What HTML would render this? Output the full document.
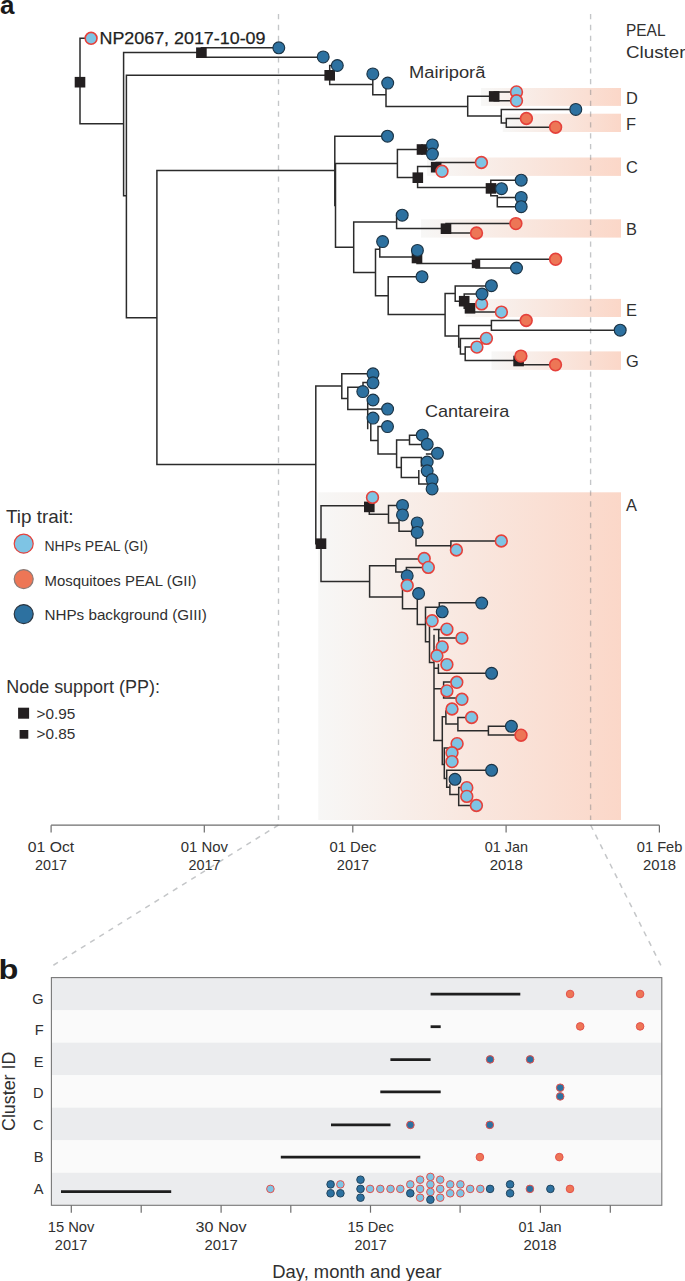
<!DOCTYPE html><html><head><meta charset="utf-8"><style>html,body{margin:0;padding:0;background:#fff;}svg{display:block;font-family:"Liberation Sans",sans-serif;}</style></head><body><svg width="685" height="1281" viewBox="0 0 685 1281">
<defs>
<linearGradient id="g1" x1="0" y1="0" x2="1" y2="0"><stop offset="0" stop-color="#f9d4c6" stop-opacity="0"/><stop offset="1" stop-color="#f9d4c6" stop-opacity="1"/></linearGradient>
<linearGradient id="gA" x1="0" y1="0" x2="1" y2="0"><stop offset="0" stop-color="#f7f7f6"/><stop offset="1" stop-color="#fbd7c8"/></linearGradient>
</defs>
<rect width="685" height="1281" fill="#fff"/>
<rect x="481" y="88.0" width="140.0" height="17.9" fill="url(#gA)"/>
<rect x="502.8" y="113.7" width="118.2" height="18.3" fill="url(#gA)"/>
<rect x="427" y="157.5" width="194.0" height="18.4" fill="url(#gA)"/>
<rect x="421" y="219.3" width="200.0" height="18.3" fill="url(#gA)"/>
<rect x="465.7" y="298.9" width="155.3" height="18.1" fill="url(#gA)"/>
<rect x="491.5" y="351.4" width="129.5" height="18.5" fill="url(#gA)"/>
<rect x="318.3" y="492.3" width="302.7" height="327.7" fill="url(#gA)"/>
<line x1="278.5" y1="14" x2="278.5" y2="820" stroke="#6b7076" stroke-opacity="0.4" stroke-width="1.35" stroke-dasharray="5.3 5.53"/>
<line x1="590.6" y1="14" x2="590.6" y2="820" stroke="#6b7076" stroke-opacity="0.4" stroke-width="1.35" stroke-dasharray="5.3 5.53"/>
<line x1="278.5" y1="825" x2="53" y2="965.5" stroke="#6b7076" stroke-opacity="0.4" stroke-width="1.5" stroke-dasharray="5.3 5.53"/>
<line x1="590.6" y1="825" x2="660.9" y2="965.4" stroke="#6b7076" stroke-opacity="0.4" stroke-width="1.5" stroke-dasharray="5.3 5.53"/>
<path d="M79.25 38.30H86.00M79.25 123.80H123.60M122.85 52.50H201.40M200.65 47.80H279.00M200.65 57.20H323.00M122.85 195.80H126.40M125.65 75.20H329.70M328.95 65.50H337.00M328.95 84.60H372.80M372.05 94.80H386.00M385.25 106.50H467.70M466.95 96.20H494.00M493.45 91.90H516.50M493.45 100.80H516.50M466.95 116.10H501.30M500.55 109.40H575.80M500.55 123.10H506.30M505.55 118.50H526.40M505.55 127.20H555.60M125.65 317.70H156.90M156.15 170.50H334.80M334.05 136.20H387.50M334.75 163.60H397.40M396.65 149.40H422.00M396.65 177.50H417.80M416.85 166.60H436.20M435.45 162.40H481.40M416.85 187.60H491.00M490.05 180.30H521.20M490.05 195.70H497.30M496.55 197.60H521.20M496.55 206.70H521.20M334.75 247.20H353.70M352.95 221.90H396.60M395.85 228.50H446.00M445.25 223.60H515.90M445.25 233.00H476.50M352.95 272.50H375.50M374.75 249.30H379.80M379.05 257.10H417.00M416.25 263.60H476.00M475.25 259.30H555.60M475.25 268.00H516.50M374.75 295.70H388.20M387.45 276.70H422.00M387.45 314.50H445.10M444.35 293.40H455.20M454.45 285.90H491.40M454.45 301.20H464.20M463.45 294.00H482.00M463.45 308.30H470.00M469.25 312.10H501.40M444.35 336.10H458.70M457.95 325.40H491.40M490.65 320.50H526.20M490.65 330.20H620.20M457.95 347.00H460.40M459.65 338.50H486.40M459.65 354.10H465.20M464.45 347.10H476.90M464.45 360.60H518.60M517.85 364.80H555.50M156.15 464.50H315.80M315.05 386.10H341.80M341.05 373.80H373.00M341.05 398.60H347.80M347.05 387.20H363.00M362.25 382.60H373.00M347.05 409.60H367.70M366.95 409.10H387.60M370.05 440.40H378.00M377.25 426.40H387.50M377.25 453.90H396.60M395.85 439.90H409.50M408.75 435.20H422.30M408.75 444.50H427.20M425.85 453.90H437.50M395.85 467.60H401.30M400.55 457.60H421.40M400.55 477.50H418.80M418.05 484.00H432.00M315.05 543.80H321.00M320.25 505.80H369.30M368.55 514.20H388.50M387.75 505.60H402.50M387.75 522.90H399.00M398.25 531.20H412.50M415.25 545.70H450.90M450.15 541.00H501.30M320.25 581.40H369.60M368.85 565.70H395.80M395.05 559.00H424.20M395.05 572.00H406.40M405.65 567.40H428.30M368.85 596.90H402.50M401.75 608.70H417.30M416.55 624.40H425.50M424.75 607.20H439.30M438.55 602.80H481.70M424.75 641.80H429.50M428.75 662.40H434.00M433.25 629.40H446.90M437.95 638.10H461.90M433.25 668.30H438.40M437.65 673.30H491.60M433.25 688.70H443.60M442.85 682.10H456.80M442.85 697.90H461.90M433.05 740.40H442.30M441.55 716.70H445.90M445.15 723.90H457.90M457.15 717.50H471.60M457.15 730.70H488.40M487.65 726.30H511.40M487.65 735.10H521.00M443.55 748.00H457.10M441.55 764.40H444.30M445.95 770.20H491.60M443.55 778.50H446.70M445.95 787.30H449.90M449.15 794.60H458.70M457.95 787.60H466.80M457.95 805.50H476.40M80.00 37.55V124.55M123.60 51.75V196.55M201.40 47.05V57.95M126.40 74.45V318.45M329.70 64.75V85.35M372.80 73.05V95.55M386.00 82.35V107.25M467.70 95.45V116.85M494.20 91.15V101.55M501.30 108.65V123.85M506.30 117.75V127.95M156.90 169.75V465.25M334.80 135.45V206.25M335.50 162.85V247.95M397.40 148.65V178.05M422.00 144.15V154.75M417.60 165.85V188.35M436.20 161.65V172.05M490.80 179.55V196.45M497.30 194.95V207.45M353.70 221.15V273.25M396.60 214.65V229.25M446.00 222.85V233.75M375.50 248.55V296.45M379.80 240.85V257.85M417.00 249.65V264.35M476.00 258.55V268.75M388.20 275.95V315.25M445.10 292.65V336.85M455.20 285.15V301.95M464.20 293.25V309.05M470.00 303.15V312.85M458.70 324.65V347.75M491.40 319.75V330.95M460.40 337.75V354.85M465.20 346.35V361.35M518.60 355.35V365.55M315.80 385.35V544.55M341.80 373.05V399.35M347.80 386.45V410.35M363.00 381.85V392.35M367.70 399.25V429.25M370.80 423.25V441.15M378.00 425.65V454.65M396.60 439.15V468.35M409.50 434.45V445.25M401.30 456.85V478.25M421.40 456.85V466.75M418.80 470.05V484.75M321.00 505.05V582.15M369.30 496.65V514.95M388.50 504.85V523.65M399.00 514.15V531.95M412.50 522.15V533.15M416.00 533.05V546.45M450.90 540.25V550.75M369.60 564.95V597.65M395.80 558.25V572.75M406.40 566.65V580.75M402.50 584.75V609.45M417.30 592.75V625.15M425.50 606.45V642.55M439.30 602.05V612.55M429.50 625.55V663.15M434.00 634.75V741.15M438.70 628.65V647.65M438.40 663.85V674.05M443.60 681.35V698.65M442.30 715.95V765.15M445.90 710.25V724.65M457.90 716.75V731.45M488.40 725.55V735.85M444.30 747.25V779.25M446.70 769.45V788.05M449.90 784.25V795.35M458.70 786.85V806.25" stroke="#2b2b2b" stroke-width="1.5" fill="none"/>
<rect x="74.70" y="76.90" width="10.6" height="10.6" fill="#231f20"/>
<rect x="196.10" y="47.40" width="10.6" height="10.6" fill="#231f20"/>
<rect x="324.40" y="70.00" width="10.6" height="10.6" fill="#231f20"/>
<rect x="488.90" y="91.10" width="10.6" height="10.6" fill="#231f20"/>
<rect x="416.70" y="144.20" width="10.6" height="10.6" fill="#231f20"/>
<rect x="412.50" y="172.40" width="10.6" height="10.6" fill="#231f20"/>
<rect x="430.90" y="161.90" width="10.6" height="10.6" fill="#231f20"/>
<rect x="485.70" y="183.10" width="10.6" height="10.6" fill="#231f20"/>
<rect x="440.70" y="223.40" width="10.6" height="10.6" fill="#231f20"/>
<rect x="411.70" y="252.70" width="10.6" height="10.6" fill="#231f20"/>
<rect x="471.80" y="259.80" width="8.4" height="8.4" fill="#231f20"/>
<rect x="458.90" y="295.90" width="10.6" height="10.6" fill="#231f20"/>
<rect x="464.70" y="303.00" width="10.6" height="10.6" fill="#231f20"/>
<rect x="513.30" y="355.70" width="10.6" height="10.6" fill="#231f20"/>
<rect x="315.70" y="538.40" width="10.6" height="10.6" fill="#231f20"/>
<rect x="364.00" y="501.60" width="10.6" height="10.6" fill="#231f20"/>
<circle cx="91.10" cy="38.30" r="5.90" fill="#7ec4e4" stroke="#e5413b" stroke-width="1.6"/>
<circle cx="278.80" cy="47.80" r="5.92" fill="#2d71a0" stroke="#1b3446" stroke-width="1.15"/>
<circle cx="323.20" cy="56.90" r="5.92" fill="#2d71a0" stroke="#1b3446" stroke-width="1.15"/>
<circle cx="337.30" cy="65.50" r="5.92" fill="#2d71a0" stroke="#1b3446" stroke-width="1.15"/>
<circle cx="372.80" cy="73.90" r="5.92" fill="#2d71a0" stroke="#1b3446" stroke-width="1.15"/>
<circle cx="387.70" cy="83.10" r="5.92" fill="#2d71a0" stroke="#1b3446" stroke-width="1.15"/>
<circle cx="516.50" cy="91.90" r="5.90" fill="#7ec4e4" stroke="#e5413b" stroke-width="1.6"/>
<circle cx="516.50" cy="100.80" r="5.90" fill="#7ec4e4" stroke="#e5413b" stroke-width="1.6"/>
<circle cx="575.80" cy="109.40" r="5.92" fill="#2d71a0" stroke="#1b3446" stroke-width="1.15"/>
<circle cx="526.40" cy="118.50" r="5.90" fill="#ed7656" stroke="#e5413b" stroke-width="1.6"/>
<circle cx="555.60" cy="127.20" r="5.90" fill="#ed7656" stroke="#e5413b" stroke-width="1.6"/>
<circle cx="387.50" cy="136.20" r="5.92" fill="#2d71a0" stroke="#1b3446" stroke-width="1.15"/>
<circle cx="432.40" cy="144.90" r="5.92" fill="#2d71a0" stroke="#1b3446" stroke-width="1.15"/>
<circle cx="432.40" cy="154.10" r="5.92" fill="#2d71a0" stroke="#1b3446" stroke-width="1.15"/>
<circle cx="481.40" cy="162.50" r="5.90" fill="#7ec4e4" stroke="#e5413b" stroke-width="1.6"/>
<circle cx="442.00" cy="171.30" r="5.90" fill="#7ec4e4" stroke="#e5413b" stroke-width="1.6"/>
<circle cx="521.20" cy="180.20" r="5.92" fill="#2d71a0" stroke="#1b3446" stroke-width="1.15"/>
<circle cx="501.50" cy="188.70" r="5.92" fill="#2d71a0" stroke="#1b3446" stroke-width="1.15"/>
<circle cx="521.20" cy="197.40" r="5.92" fill="#2d71a0" stroke="#1b3446" stroke-width="1.15"/>
<circle cx="521.20" cy="206.70" r="5.92" fill="#2d71a0" stroke="#1b3446" stroke-width="1.15"/>
<circle cx="402.20" cy="215.20" r="5.92" fill="#2d71a0" stroke="#1b3446" stroke-width="1.15"/>
<circle cx="515.90" cy="223.60" r="5.90" fill="#ed7656" stroke="#e5413b" stroke-width="1.6"/>
<circle cx="476.50" cy="233.00" r="5.90" fill="#ed7656" stroke="#e5413b" stroke-width="1.6"/>
<circle cx="382.60" cy="241.60" r="5.92" fill="#2d71a0" stroke="#1b3446" stroke-width="1.15"/>
<circle cx="417.40" cy="250.40" r="5.92" fill="#2d71a0" stroke="#1b3446" stroke-width="1.15"/>
<circle cx="555.60" cy="259.30" r="5.90" fill="#ed7656" stroke="#e5413b" stroke-width="1.6"/>
<circle cx="516.50" cy="268.00" r="5.92" fill="#2d71a0" stroke="#1b3446" stroke-width="1.15"/>
<circle cx="422.00" cy="276.70" r="5.92" fill="#2d71a0" stroke="#1b3446" stroke-width="1.15"/>
<circle cx="491.40" cy="285.70" r="5.92" fill="#2d71a0" stroke="#1b3446" stroke-width="1.15"/>
<circle cx="481.60" cy="303.90" r="5.90" fill="#7ec4e4" stroke="#e5413b" stroke-width="1.6"/>
<circle cx="482.00" cy="294.00" r="5.92" fill="#2d71a0" stroke="#1b3446" stroke-width="1.15"/>
<circle cx="501.40" cy="312.10" r="5.90" fill="#7ec4e4" stroke="#e5413b" stroke-width="1.6"/>
<circle cx="526.20" cy="320.50" r="5.90" fill="#ed7656" stroke="#e5413b" stroke-width="1.6"/>
<circle cx="620.20" cy="330.20" r="5.92" fill="#2d71a0" stroke="#1b3446" stroke-width="1.15"/>
<circle cx="486.40" cy="338.40" r="5.90" fill="#7ec4e4" stroke="#e5413b" stroke-width="1.6"/>
<circle cx="476.90" cy="347.10" r="5.90" fill="#7ec4e4" stroke="#e5413b" stroke-width="1.6"/>
<circle cx="520.90" cy="356.10" r="5.90" fill="#ed7656" stroke="#e5413b" stroke-width="1.6"/>
<circle cx="555.50" cy="364.80" r="5.90" fill="#ed7656" stroke="#e5413b" stroke-width="1.6"/>
<circle cx="373.00" cy="373.80" r="5.92" fill="#2d71a0" stroke="#1b3446" stroke-width="1.15"/>
<circle cx="373.00" cy="382.80" r="5.92" fill="#2d71a0" stroke="#1b3446" stroke-width="1.15"/>
<circle cx="362.80" cy="391.60" r="5.92" fill="#2d71a0" stroke="#1b3446" stroke-width="1.15"/>
<circle cx="373.00" cy="400.00" r="5.92" fill="#2d71a0" stroke="#1b3446" stroke-width="1.15"/>
<circle cx="387.60" cy="409.10" r="5.92" fill="#2d71a0" stroke="#1b3446" stroke-width="1.15"/>
<circle cx="373.00" cy="418.10" r="5.92" fill="#2d71a0" stroke="#1b3446" stroke-width="1.15"/>
<circle cx="387.50" cy="426.60" r="5.92" fill="#2d71a0" stroke="#1b3446" stroke-width="1.15"/>
<circle cx="422.30" cy="435.20" r="5.92" fill="#2d71a0" stroke="#1b3446" stroke-width="1.15"/>
<circle cx="427.20" cy="444.30" r="5.92" fill="#2d71a0" stroke="#1b3446" stroke-width="1.15"/>
<circle cx="437.50" cy="453.30" r="5.92" fill="#2d71a0" stroke="#1b3446" stroke-width="1.15"/>
<circle cx="427.20" cy="462.00" r="5.92" fill="#2d71a0" stroke="#1b3446" stroke-width="1.15"/>
<circle cx="427.20" cy="470.80" r="5.92" fill="#2d71a0" stroke="#1b3446" stroke-width="1.15"/>
<circle cx="432.10" cy="479.60" r="5.92" fill="#2d71a0" stroke="#1b3446" stroke-width="1.15"/>
<circle cx="432.10" cy="488.90" r="5.92" fill="#2d71a0" stroke="#1b3446" stroke-width="1.15"/>
<circle cx="372.50" cy="497.40" r="5.90" fill="#7ec4e4" stroke="#e5413b" stroke-width="1.6"/>
<circle cx="402.50" cy="505.40" r="5.92" fill="#2d71a0" stroke="#1b3446" stroke-width="1.15"/>
<circle cx="402.50" cy="514.90" r="5.92" fill="#2d71a0" stroke="#1b3446" stroke-width="1.15"/>
<circle cx="417.20" cy="522.90" r="5.92" fill="#2d71a0" stroke="#1b3446" stroke-width="1.15"/>
<circle cx="417.20" cy="532.40" r="5.92" fill="#2d71a0" stroke="#1b3446" stroke-width="1.15"/>
<circle cx="501.30" cy="541.00" r="5.90" fill="#7ec4e4" stroke="#e5413b" stroke-width="1.6"/>
<circle cx="456.40" cy="550.00" r="5.90" fill="#7ec4e4" stroke="#e5413b" stroke-width="1.6"/>
<circle cx="424.20" cy="558.50" r="5.90" fill="#7ec4e4" stroke="#e5413b" stroke-width="1.6"/>
<circle cx="428.30" cy="567.40" r="5.90" fill="#7ec4e4" stroke="#e5413b" stroke-width="1.6"/>
<circle cx="407.20" cy="575.80" r="5.92" fill="#2d71a0" stroke="#1b3446" stroke-width="1.15"/>
<circle cx="407.20" cy="585.50" r="5.90" fill="#7ec4e4" stroke="#e5413b" stroke-width="1.6"/>
<circle cx="418.60" cy="593.50" r="5.92" fill="#2d71a0" stroke="#1b3446" stroke-width="1.15"/>
<circle cx="481.70" cy="603.10" r="5.92" fill="#2d71a0" stroke="#1b3446" stroke-width="1.15"/>
<circle cx="442.20" cy="611.80" r="5.92" fill="#2d71a0" stroke="#1b3446" stroke-width="1.15"/>
<circle cx="432.10" cy="620.80" r="5.90" fill="#7ec4e4" stroke="#e5413b" stroke-width="1.6"/>
<circle cx="446.90" cy="629.20" r="5.90" fill="#7ec4e4" stroke="#e5413b" stroke-width="1.6"/>
<circle cx="461.90" cy="638.10" r="5.90" fill="#7ec4e4" stroke="#e5413b" stroke-width="1.6"/>
<circle cx="442.20" cy="646.90" r="5.90" fill="#7ec4e4" stroke="#e5413b" stroke-width="1.6"/>
<circle cx="436.90" cy="655.80" r="5.90" fill="#7ec4e4" stroke="#e5413b" stroke-width="1.6"/>
<circle cx="446.90" cy="664.60" r="5.90" fill="#7ec4e4" stroke="#e5413b" stroke-width="1.6"/>
<circle cx="491.60" cy="673.30" r="5.92" fill="#2d71a0" stroke="#1b3446" stroke-width="1.15"/>
<circle cx="456.80" cy="682.30" r="5.90" fill="#7ec4e4" stroke="#e5413b" stroke-width="1.6"/>
<circle cx="446.90" cy="690.90" r="5.90" fill="#7ec4e4" stroke="#e5413b" stroke-width="1.6"/>
<circle cx="461.90" cy="699.30" r="5.90" fill="#7ec4e4" stroke="#e5413b" stroke-width="1.6"/>
<circle cx="452.00" cy="709.00" r="5.90" fill="#7ec4e4" stroke="#e5413b" stroke-width="1.6"/>
<circle cx="471.60" cy="717.50" r="5.90" fill="#7ec4e4" stroke="#e5413b" stroke-width="1.6"/>
<circle cx="511.40" cy="726.30" r="5.92" fill="#2d71a0" stroke="#1b3446" stroke-width="1.15"/>
<circle cx="521.00" cy="735.20" r="5.90" fill="#ed7656" stroke="#e5413b" stroke-width="1.6"/>
<circle cx="457.10" cy="743.70" r="5.90" fill="#7ec4e4" stroke="#e5413b" stroke-width="1.6"/>
<circle cx="452.00" cy="752.80" r="5.90" fill="#7ec4e4" stroke="#e5413b" stroke-width="1.6"/>
<circle cx="452.00" cy="761.60" r="5.90" fill="#7ec4e4" stroke="#e5413b" stroke-width="1.6"/>
<circle cx="491.60" cy="770.30" r="5.92" fill="#2d71a0" stroke="#1b3446" stroke-width="1.15"/>
<circle cx="455.00" cy="779.30" r="5.92" fill="#2d71a0" stroke="#1b3446" stroke-width="1.15"/>
<circle cx="466.80" cy="787.70" r="5.90" fill="#7ec4e4" stroke="#e5413b" stroke-width="1.6"/>
<circle cx="466.80" cy="796.40" r="5.90" fill="#7ec4e4" stroke="#e5413b" stroke-width="1.6"/>
<circle cx="476.40" cy="805.50" r="5.90" fill="#7ec4e4" stroke="#e5413b" stroke-width="1.6"/>
<g font-family="'Liberation Sans', sans-serif">
<text x="0" y="14" font-size="26" text-anchor="start" font-weight="bold" fill="#1a1a1a">a</text>
<text x="99.5" y="44" font-size="16.4" text-anchor="start" font-weight="normal" fill="#1f1f1f" textLength="166" lengthAdjust="spacingAndGlyphs" stroke="#1f1f1f" stroke-width="0.25">NP2067, 2017-10-09</text>
<text x="626" y="36" font-size="16.4" text-anchor="start" font-weight="normal" fill="#303030" textLength="39.5" lengthAdjust="spacingAndGlyphs">PEAL</text>
<text x="626" y="58" font-size="16.4" text-anchor="start" font-weight="normal" fill="#303030" textLength="59.5" lengthAdjust="spacingAndGlyphs">Cluster</text>
<text x="409" y="77.9" font-size="17.3" text-anchor="start" font-weight="normal" fill="#303030" textLength="76.4" lengthAdjust="spacingAndGlyphs">Mairiporã</text>
<text x="424.9" y="416.6" font-size="17" text-anchor="start" font-weight="normal" fill="#303030" textLength="84.3" lengthAdjust="spacingAndGlyphs">Cantareira</text>
<text x="626" y="103.6" font-size="16.4" text-anchor="start" font-weight="normal" fill="#303030">D</text>
<text x="626" y="129.9" font-size="16.4" text-anchor="start" font-weight="normal" fill="#303030">F</text>
<text x="626" y="172.8" font-size="16.4" text-anchor="start" font-weight="normal" fill="#303030">C</text>
<text x="626" y="235.3" font-size="16.4" text-anchor="start" font-weight="normal" fill="#303030">B</text>
<text x="626" y="315.7" font-size="16.4" text-anchor="start" font-weight="normal" fill="#303030">E</text>
<text x="626" y="367" font-size="16.4" text-anchor="start" font-weight="normal" fill="#303030">G</text>
<text x="626" y="510.7" font-size="16.4" text-anchor="start" font-weight="normal" fill="#303030">A</text>
<text x="6" y="523.3" font-size="18.2" text-anchor="start" font-weight="normal" fill="#303030" textLength="67.5" lengthAdjust="spacingAndGlyphs">Tip trait:</text>
<circle cx="23.70" cy="543.70" r="9.50" fill="#7ec4e4" stroke="#e5413b" stroke-width="1.2"/>
<circle cx="23.7" cy="579.1" r="9.5" fill="#ed7656" stroke="#8a7a76" stroke-width="1.2"/>
<circle cx="23.7" cy="614.1" r="9.5" fill="#2d71a0" stroke="#2a3540" stroke-width="1.2"/>
<text x="44.5" y="551" font-size="15.2" text-anchor="start" font-weight="normal" fill="#303030" textLength="103.5" lengthAdjust="spacingAndGlyphs">NHPs PEAL (GI)</text>
<text x="44.5" y="585.7" font-size="15.2" text-anchor="start" font-weight="normal" fill="#303030" textLength="152" lengthAdjust="spacingAndGlyphs">Mosquitoes PEAL (GII)</text>
<text x="44.5" y="620.4" font-size="15.2" text-anchor="start" font-weight="normal" fill="#303030" textLength="162.3" lengthAdjust="spacingAndGlyphs">NHPs background (GIII)</text>
<text x="6.2" y="692.6" font-size="18.4" text-anchor="start" font-weight="normal" fill="#303030" textLength="153.8" lengthAdjust="spacingAndGlyphs">Node support (PP):</text>
<rect x="18.1" y="707.7" width="11" height="11" fill="#231f20"/>
<rect x="19.6" y="730" width="8.7" height="8.7" fill="#231f20"/>
<text x="36.5" y="718.8" font-size="15" text-anchor="start" font-weight="normal" fill="#303030" textLength="38.8" lengthAdjust="spacingAndGlyphs">&gt;0.95</text>
<text x="36.5" y="739.3" font-size="15" text-anchor="start" font-weight="normal" fill="#303030" textLength="38.8" lengthAdjust="spacingAndGlyphs">&gt;0.85</text>
<path d="M51.1 825.2H659.4" stroke="#6e6e6e" stroke-width="1.2"/>
<path d="M51.1 825.2V832.5" stroke="#6e6e6e" stroke-width="1.2"/>
<path d="M204.3 825.2V832.5" stroke="#6e6e6e" stroke-width="1.2"/>
<path d="M352.8 825.2V832.5" stroke="#6e6e6e" stroke-width="1.2"/>
<path d="M506.1 825.2V832.5" stroke="#6e6e6e" stroke-width="1.2"/>
<path d="M659.4 825.2V832.5" stroke="#6e6e6e" stroke-width="1.2"/>
<text x="51.0" y="852.2" font-size="14.6" text-anchor="middle" font-weight="normal" fill="#303030" textLength="46.4" lengthAdjust="spacingAndGlyphs">01 Oct</text>
<text x="51.0" y="870.1" font-size="14.6" text-anchor="middle" font-weight="normal" fill="#303030" textLength="32" lengthAdjust="spacingAndGlyphs">2017</text>
<text x="204.4" y="852.2" font-size="14.6" text-anchor="middle" font-weight="normal" fill="#303030" textLength="47.3" lengthAdjust="spacingAndGlyphs">01 Nov</text>
<text x="204.4" y="870.1" font-size="14.6" text-anchor="middle" font-weight="normal" fill="#303030" textLength="32" lengthAdjust="spacingAndGlyphs">2017</text>
<text x="353.0" y="852.2" font-size="14.6" text-anchor="middle" font-weight="normal" fill="#303030" textLength="47" lengthAdjust="spacingAndGlyphs">01 Dec</text>
<text x="353.0" y="870.1" font-size="14.6" text-anchor="middle" font-weight="normal" fill="#303030" textLength="32.3" lengthAdjust="spacingAndGlyphs">2017</text>
<text x="506.3" y="852.2" font-size="14.6" text-anchor="middle" font-weight="normal" fill="#303030" textLength="43.3" lengthAdjust="spacingAndGlyphs">01 Jan</text>
<text x="506.3" y="870.1" font-size="14.6" text-anchor="middle" font-weight="normal" fill="#303030" textLength="33.3" lengthAdjust="spacingAndGlyphs">2018</text>
<text x="659.6" y="852.2" font-size="14.6" text-anchor="middle" font-weight="normal" fill="#303030" textLength="45.6" lengthAdjust="spacingAndGlyphs">01 Feb</text>
<text x="659.6" y="870.1" font-size="14.6" text-anchor="middle" font-weight="normal" fill="#303030" textLength="33" lengthAdjust="spacingAndGlyphs">2018</text>
<text x="-1.4" y="978.5" font-size="28" text-anchor="start" font-weight="bold" fill="#1a1a1a" textLength="19.9" lengthAdjust="spacingAndGlyphs">b</text>
<rect x="51.4" y="977.60" width="610.40" height="32.83" fill="#ebecee"/>
<text x="43.6" y="1003.8" font-size="14.6" text-anchor="end" font-weight="normal" fill="#303030">G</text>
<rect x="51.4" y="1010.13" width="610.40" height="32.83" fill="#fafafa"/>
<text x="43.6" y="1035.3" font-size="14.6" text-anchor="end" font-weight="normal" fill="#303030">F</text>
<rect x="51.4" y="1042.66" width="610.40" height="32.83" fill="#ebecee"/>
<text x="43.6" y="1067.2" font-size="14.6" text-anchor="end" font-weight="normal" fill="#303030">E</text>
<rect x="51.4" y="1075.19" width="610.40" height="32.83" fill="#fafafa"/>
<text x="43.6" y="1098.2" font-size="14.6" text-anchor="end" font-weight="normal" fill="#303030">D</text>
<rect x="51.4" y="1107.71" width="610.40" height="32.83" fill="#ebecee"/>
<text x="43.6" y="1130.3" font-size="14.6" text-anchor="end" font-weight="normal" fill="#303030">C</text>
<rect x="51.4" y="1140.24" width="610.40" height="32.83" fill="#fafafa"/>
<text x="43.6" y="1162" font-size="14.6" text-anchor="end" font-weight="normal" fill="#303030">B</text>
<rect x="51.4" y="1172.77" width="610.40" height="32.83" fill="#ebecee"/>
<text x="43.6" y="1194.1" font-size="14.6" text-anchor="end" font-weight="normal" fill="#303030">A</text>
<rect x="51.4" y="977.6" width="610.40" height="227.70" fill="none" stroke="#777" stroke-width="1.1"/>
<path d="M430.6 994.2H520.3" stroke="#1e1e1e" stroke-width="2.8"/>
<path d="M430.6 1026.7H440.7" stroke="#1e1e1e" stroke-width="2.8"/>
<path d="M390.4 1059.6H430.6" stroke="#1e1e1e" stroke-width="2.8"/>
<path d="M380.3 1091.8H440.7" stroke="#1e1e1e" stroke-width="2.8"/>
<path d="M331 1124.9H390.5" stroke="#1e1e1e" stroke-width="2.8"/>
<path d="M280.8 1157.1H420.3" stroke="#1e1e1e" stroke-width="2.8"/>
<path d="M61 1191.7H171.2" stroke="#1e1e1e" stroke-width="2.8"/>
<circle cx="570.1" cy="994.0" r="3.80" fill="#ed7656" stroke="#e5514c" stroke-width="1.0"/>
<circle cx="640.1" cy="994.0" r="3.80" fill="#ed7656" stroke="#e5514c" stroke-width="1.0"/>
<circle cx="580.2" cy="1026.4" r="3.80" fill="#ed7656" stroke="#e5514c" stroke-width="1.0"/>
<circle cx="640.1" cy="1026.4" r="3.80" fill="#ed7656" stroke="#e5514c" stroke-width="1.0"/>
<circle cx="490.1" cy="1059.4" r="3.80" fill="#2d71a0" stroke="#e5514c" stroke-width="1.0"/>
<circle cx="530.1" cy="1059.4" r="3.80" fill="#2d71a0" stroke="#e5514c" stroke-width="1.0"/>
<circle cx="560.2" cy="1087.7" r="3.80" fill="#2d71a0" stroke="#e5514c" stroke-width="1.0"/>
<circle cx="560.2" cy="1096.4" r="3.80" fill="#2d71a0" stroke="#e5514c" stroke-width="1.0"/>
<circle cx="410.4" cy="1124.9" r="3.80" fill="#2d71a0" stroke="#e5514c" stroke-width="1.0"/>
<circle cx="489.8" cy="1124.9" r="3.80" fill="#2d71a0" stroke="#e5514c" stroke-width="1.0"/>
<circle cx="479.9" cy="1157.1" r="3.80" fill="#ed7656" stroke="#e5514c" stroke-width="1.0"/>
<circle cx="559.3" cy="1157.1" r="3.80" fill="#ed7656" stroke="#e5514c" stroke-width="1.0"/>
<circle cx="270.4" cy="1188.9" r="3.80" fill="#7ec4e4" stroke="#e5514c" stroke-width="1.0"/>
<circle cx="330.6" cy="1184.4" r="3.80" fill="#2d71a0" stroke="#24465f" stroke-width="1.0"/>
<circle cx="330.6" cy="1193.3" r="3.80" fill="#2d71a0" stroke="#24465f" stroke-width="1.0"/>
<circle cx="340.4" cy="1184.4" r="3.80" fill="#7ec4e4" stroke="#e5514c" stroke-width="1.0"/>
<circle cx="340.4" cy="1193.3" r="3.80" fill="#2d71a0" stroke="#24465f" stroke-width="1.0"/>
<circle cx="360.5" cy="1179.7" r="3.80" fill="#2d71a0" stroke="#24465f" stroke-width="1.0"/>
<circle cx="360.5" cy="1188.9" r="3.80" fill="#2d71a0" stroke="#24465f" stroke-width="1.0"/>
<circle cx="360.5" cy="1197.7" r="3.80" fill="#2d71a0" stroke="#24465f" stroke-width="1.0"/>
<circle cx="370.1" cy="1188.9" r="3.80" fill="#7ec4e4" stroke="#e5514c" stroke-width="1.0"/>
<circle cx="380.3" cy="1188.9" r="3.80" fill="#7ec4e4" stroke="#e5514c" stroke-width="1.0"/>
<circle cx="390.5" cy="1188.9" r="3.80" fill="#7ec4e4" stroke="#e5514c" stroke-width="1.0"/>
<circle cx="400.3" cy="1188.9" r="3.80" fill="#7ec4e4" stroke="#e5514c" stroke-width="1.0"/>
<circle cx="410.3" cy="1184.4" r="3.80" fill="#7ec4e4" stroke="#e5514c" stroke-width="1.0"/>
<circle cx="410.3" cy="1193.3" r="3.80" fill="#2d71a0" stroke="#24465f" stroke-width="1.0"/>
<circle cx="420.1" cy="1179.7" r="3.80" fill="#7ec4e4" stroke="#e5514c" stroke-width="1.0"/>
<circle cx="420.1" cy="1188.9" r="3.80" fill="#7ec4e4" stroke="#e5514c" stroke-width="1.0"/>
<circle cx="420.1" cy="1197.7" r="3.80" fill="#7ec4e4" stroke="#e5514c" stroke-width="1.0"/>
<circle cx="430.4" cy="1176.9" r="3.80" fill="#7ec4e4" stroke="#e5514c" stroke-width="1.0"/>
<circle cx="430.4" cy="1184.4" r="3.80" fill="#7ec4e4" stroke="#e5514c" stroke-width="1.0"/>
<circle cx="430.4" cy="1192.0" r="3.80" fill="#7ec4e4" stroke="#e5514c" stroke-width="1.0"/>
<circle cx="430.4" cy="1199.7" r="3.80" fill="#2d71a0" stroke="#24465f" stroke-width="1.0"/>
<circle cx="440.2" cy="1179.7" r="3.80" fill="#7ec4e4" stroke="#e5514c" stroke-width="1.0"/>
<circle cx="440.2" cy="1188.9" r="3.80" fill="#7ec4e4" stroke="#e5514c" stroke-width="1.0"/>
<circle cx="440.2" cy="1197.7" r="3.80" fill="#7ec4e4" stroke="#e5514c" stroke-width="1.0"/>
<circle cx="450.2" cy="1184.4" r="3.80" fill="#7ec4e4" stroke="#e5514c" stroke-width="1.0"/>
<circle cx="450.2" cy="1193.3" r="3.80" fill="#7ec4e4" stroke="#e5514c" stroke-width="1.0"/>
<circle cx="460.4" cy="1184.4" r="3.80" fill="#7ec4e4" stroke="#e5514c" stroke-width="1.0"/>
<circle cx="460.4" cy="1193.3" r="3.80" fill="#7ec4e4" stroke="#e5514c" stroke-width="1.0"/>
<circle cx="470.2" cy="1188.9" r="3.80" fill="#7ec4e4" stroke="#e5514c" stroke-width="1.0"/>
<circle cx="480.3" cy="1188.9" r="3.80" fill="#7ec4e4" stroke="#e5514c" stroke-width="1.0"/>
<circle cx="490.1" cy="1188.9" r="3.80" fill="#2d71a0" stroke="#24465f" stroke-width="1.0"/>
<circle cx="510.1" cy="1184.4" r="3.80" fill="#2d71a0" stroke="#24465f" stroke-width="1.0"/>
<circle cx="510.1" cy="1193.3" r="3.80" fill="#2d71a0" stroke="#24465f" stroke-width="1.0"/>
<circle cx="529.9" cy="1188.9" r="3.80" fill="#2d71a0" stroke="#e5514c" stroke-width="1.0"/>
<circle cx="550.4" cy="1188.9" r="3.80" fill="#2d71a0" stroke="#24465f" stroke-width="1.0"/>
<circle cx="570.0" cy="1188.9" r="3.80" fill="#ed7656" stroke="#e5514c" stroke-width="1.0"/>
<path d="M71.3 1205.3V1212.7" stroke="#6e6e6e" stroke-width="1.2"/>
<path d="M141.2 1205.3V1212.7" stroke="#6e6e6e" stroke-width="1.2"/>
<path d="M221.1 1205.3V1212.7" stroke="#6e6e6e" stroke-width="1.2"/>
<path d="M290.8 1205.3V1212.7" stroke="#6e6e6e" stroke-width="1.2"/>
<path d="M370.5 1205.3V1212.7" stroke="#6e6e6e" stroke-width="1.2"/>
<path d="M460.1 1205.3V1212.7" stroke="#6e6e6e" stroke-width="1.2"/>
<path d="M540.4 1205.3V1212.7" stroke="#6e6e6e" stroke-width="1.2"/>
<path d="M610.3 1205.3V1212.7" stroke="#6e6e6e" stroke-width="1.2"/>
<text x="71.05" y="1231.7" font-size="15" text-anchor="middle" font-weight="normal" fill="#303030" textLength="46.7" lengthAdjust="spacingAndGlyphs">15 Nov</text>
<text x="71.05" y="1249.7" font-size="15" text-anchor="middle" font-weight="normal" fill="#303030" textLength="32.5" lengthAdjust="spacingAndGlyphs">2017</text>
<text x="221.1" y="1231.7" font-size="15" text-anchor="middle" font-weight="normal" fill="#303030" textLength="51" lengthAdjust="spacingAndGlyphs">30 Nov</text>
<text x="221.1" y="1249.7" font-size="15" text-anchor="middle" font-weight="normal" fill="#303030" textLength="33.2" lengthAdjust="spacingAndGlyphs">2017</text>
<text x="370.6" y="1231.7" font-size="15" text-anchor="middle" font-weight="normal" fill="#303030" textLength="46.4" lengthAdjust="spacingAndGlyphs">15 Dec</text>
<text x="370.6" y="1249.7" font-size="15" text-anchor="middle" font-weight="normal" fill="#303030" textLength="32.2" lengthAdjust="spacingAndGlyphs">2017</text>
<text x="540.0" y="1231.7" font-size="15" text-anchor="middle" font-weight="normal" fill="#303030" textLength="43.2" lengthAdjust="spacingAndGlyphs">01 Jan</text>
<text x="540.0" y="1249.7" font-size="15" text-anchor="middle" font-weight="normal" fill="#303030" textLength="33.2" lengthAdjust="spacingAndGlyphs">2018</text>
<text x="272.3" y="1277.7" font-size="18.3" text-anchor="start" font-weight="normal" fill="#303030" textLength="169.3" lengthAdjust="spacingAndGlyphs">Day, month and year</text>
<text x="0" y="0" font-size="17.6" fill="#303030" transform="translate(14.8 1131) rotate(-90)" textLength="79.4" lengthAdjust="spacingAndGlyphs">Cluster ID</text>
</g>
</svg></body></html>
